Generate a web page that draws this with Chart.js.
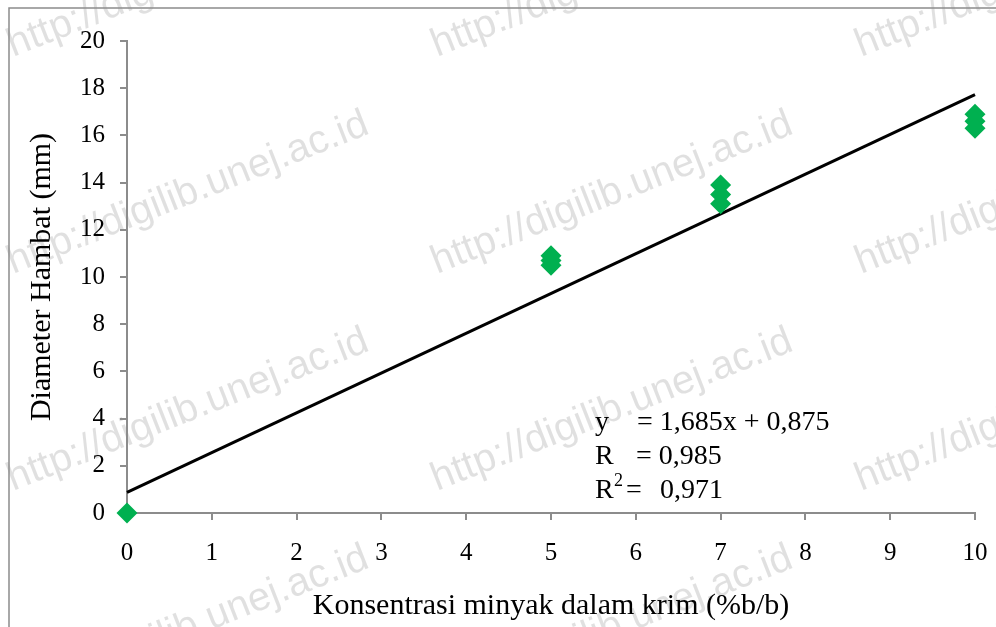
<!DOCTYPE html>
<html>
<head>
<meta charset="utf-8">
<script src="https://cdn.jsdelivr.net/npm/chart.js@4.4.1/dist/chart.umd.min.js"></script>
<style>
  html, body { margin: 0; padding: 0; background: #ffffff; }
  #wrap { width: 996px; height: 627px; position: relative; }
</style>
</head>
<body>
<div id="wrap"><canvas id="c" width="996" height="627"></canvas></div>
<script>
// ---- data ----
const concX = [0, 5, 5, 5, 7, 7, 7, 10, 10, 10];
const diameterY = [0, 10.9, 10.7, 10.5, 13.9, 13.5, 13.1, 16.9, 16.6, 16.3];
const trendX = [0, 10];
const trendY = [0.875, 17.725];
const xTicks = [0, 1, 2, 3, 4, 5, 6, 7, 8, 9, 10];
const yTicks = [0, 2, 4, 6, 8, 10, 12, 14, 16, 18, 20];
const xTitle = 'Konsentrasi minyak dalam krim (%b/b)';
const yTitle = 'Diameter Hambat (mm)';
const eqLabels = ['y', '= 1,685x + 0,875'];
const rLabels = ['R', '= 0,985'];
const r2Labels = ['R', '2', '=', '0,971'];
const watermark = 'http://digilib.unej.ac.id';

const SERIF = "'Liberation Serif', 'Times New Roman', serif";
const SANS = "'Liberation Sans', Arial, sans-serif";

const scatterPts = concX.map((x, i) => ({ x: x, y: diameterY[i] }));
const trendPts = trendX.map((x, i) => ({ x: x, y: trendY[i] }));

const bgPlugin = {
  id: 'bg',
  beforeDraw(chart) {
    const ctx = chart.ctx;
    ctx.save();
    ctx.fillStyle = '#ffffff';
    ctx.fillRect(0, 0, chart.width, chart.height);
    // watermarks
    ctx.fillStyle = 'rgba(0,0,0,0.12)';
    ctx.font = '40px ' + SANS;
    ctx.textBaseline = 'alphabetic';
    ctx.textAlign = 'left';
    for (let i = 0; i < 3; i++) {
      for (let j = 0; j < 4; j++) {
        ctx.save();
        ctx.translate(13 + 424 * i, 57 + 217 * j);
        ctx.rotate(-21.5 * Math.PI / 180);
        ctx.fillText(watermark, 0, 0);
        ctx.restore();
      }
    }
    // outer border
    ctx.strokeStyle = '#8c8c8c';
    ctx.lineWidth = 1.5;
    ctx.strokeRect(9, 8, 1100, 1100);
    ctx.restore();
  }
};

const annoPlugin = {
  id: 'anno',
  afterDatasetsDraw(chart) {
    const ctx = chart.ctx;
    ctx.save();
    ctx.fillStyle = '#000000';
    ctx.textBaseline = 'alphabetic';
    ctx.textAlign = 'left';
    ctx.font = '28px ' + SERIF;
    ctx.fillText(eqLabels[0], 595, 430);
    ctx.fillText(eqLabels[1], 637, 430);
    ctx.fillText(rLabels[0], 595, 464);
    ctx.fillText(rLabels[1], 636, 464);
    ctx.fillText(r2Labels[0], 595, 498);
    ctx.font = '18px ' + SERIF;
    ctx.fillText(r2Labels[1], 614, 486);
    ctx.font = '28px ' + SERIF;
    ctx.fillText(r2Labels[2], 626, 498);
    ctx.fillText(r2Labels[3], 660, 498);
    ctx.restore();
  }
};

new Chart(document.getElementById('c'), {
  type: 'scatter',
  data: {
    datasets: [
      {
        type: 'line',
        data: trendPts,
        borderColor: '#000000',
        borderWidth: 3,
        pointRadius: 0,
        fill: false,
        clip: false,
        order: 2
      },
      {
        data: scatterPts,
        pointStyle: 'rectRot',
        pointRadius: 10.5,
        pointHoverRadius: 10.5,
        backgroundColor: '#00B050',
        borderColor: '#00B050',
        borderWidth: 0,
        clip: false,
        order: 1
      }
    ]
  },
  options: {
    responsive: false,
    animation: false,
    events: [],
    layout: { padding: { left: 0, top: 41, right: 21, bottom: 0 } },
    plugins: { legend: { display: false }, tooltip: { enabled: false } },
    scales: {
      x: {
        type: 'linear',
        min: 0, max: 10,
        afterFit(s) { s.height = 114; s.paddingLeft = 0; s.paddingRight = 0; },
        afterBuildTicks(s) { s.ticks = xTicks.map(v => ({ value: v })); },
        ticks: {
          color: '#000000',
          font: { family: SERIF, size: 25 },
          padding: 18,
          maxRotation: 0,
          autoSkip: false,
          callback: v => String(v)
        },
        grid: { drawOnChartArea: false, drawTicks: true, tickLength: 7, color: '#8c8c8c', lineWidth: 2 },
        border: { display: true, color: '#8c8c8c', width: 2 },
        title: {
          display: true, text: xTitle, color: '#000000',
          font: { family: SERIF, size: 30 },
          padding: { top: 0, bottom: 3 }
        }
      },
      y: {
        type: 'linear',
        min: 0, max: 20,
        afterFit(s) { s.width = 127; s.paddingTop = 0; s.paddingBottom = 0; },
        afterBuildTicks(s) { s.ticks = yTicks.map(v => ({ value: v })); },
        ticks: {
          color: '#000000',
          font: { family: SERIF, size: 25 },
          padding: 15,
          autoSkip: false,
          callback: v => String(v)
        },
        grid: { drawOnChartArea: false, drawTicks: true, tickLength: 7, color: '#8c8c8c', lineWidth: 2 },
        border: { display: true, color: '#8c8c8c', width: 2 },
        title: {
          display: true, text: yTitle, color: '#000000',
          font: { family: SERIF, size: 30 },
          padding: { top: 24, bottom: 0 }
        }
      }
    }
  },
  plugins: [bgPlugin, annoPlugin]
});
</script>
</body>
</html>
